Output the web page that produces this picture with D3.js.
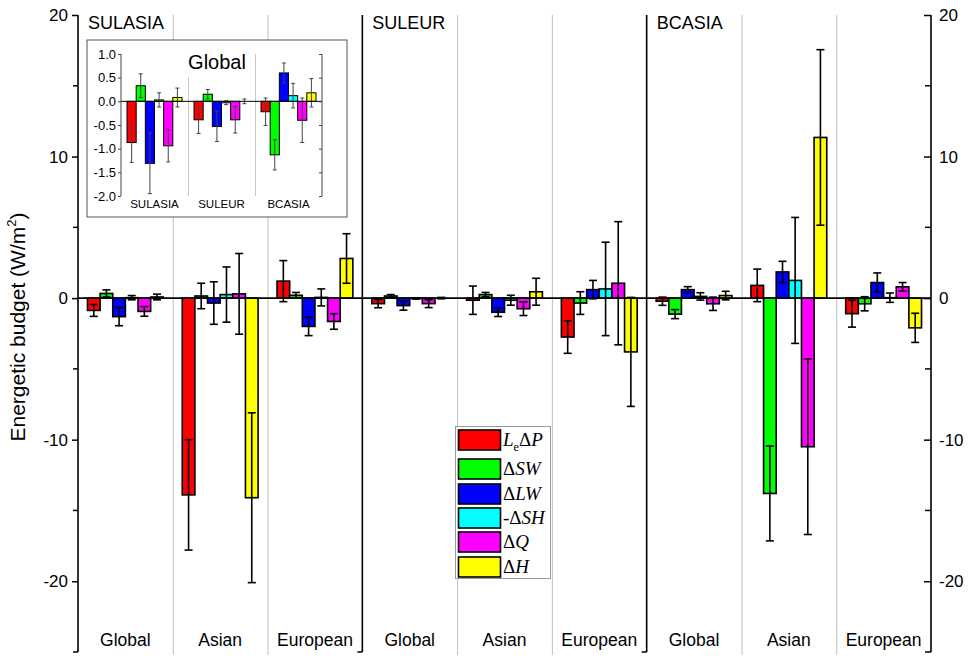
<!DOCTYPE html>
<html><head><meta charset="utf-8">
<script src="https://cdn.jsdelivr.net/npm/d3@7"></script>
<style>
body{margin:0;background:#fff}
svg text{font-family:"Liberation Sans",Arial,sans-serif;fill:#000}
</style>
</head><body>
<svg id="chart" width="972" height="661"></svg>
<script>
// ---------- DATA ----------
const panels = ["SULASIA", "SULEUR", "BCASIA"];
const regions = ["Global", "Asian", "European"];
const seriesNames = ["LeΔP", "ΔSW", "ΔLW", "-ΔSH", "ΔQ", "ΔH"];
const seriesColors = ["#ff0000", "#00ff00", "#0000ff", "#00ffff", "#ff00ff", "#ffff00"];

// rows: Global, Asian, European ; columns follow seriesNames
const sulasiaMean = [
  [-0.87, 0.33, -1.31, 0.03, -0.94, 0.08],
  [-13.9, 0.15, -0.35, 0.25, 0.3, -14.1],
  [1.2, 0.2, -2.0, 0.05, -1.65, 2.8]
];
const sulasiaErr = [
  [0.42, 0.25, 0.64, 0.15, 0.34, 0.2],
  [3.9, 0.9, 1.5, 1.95, 2.85, 6.0],
  [1.45, 0.2, 0.65, 0.6, 0.55, 1.75]
];
const suleurMean = [
  [-0.39, 0.15, -0.53, -0.03, -0.39, 0.0],
  [-0.15, 0.25, -1.0, -0.15, -0.75, 0.45],
  [-2.75, -0.35, 0.6, 0.65, 1.05, -3.8]
];
const suleurErr = [
  [0.29, 0.1, 0.32, 0.04, 0.28, 0.05],
  [1.0, 0.15, 0.3, 0.35, 0.48, 0.95],
  [1.15, 0.8, 0.65, 3.3, 4.35, 3.85]
];
const bcasiaMean = [
  [-0.22, -1.13, 0.6, 0.12, -0.4, 0.18],
  [0.9, -13.8, 1.85, 1.25, -10.5, 11.35],
  [-1.1, -0.4, 1.1, 0.03, 0.8, -2.1]
];
const bcasiaErr = [
  [0.29, 0.32, 0.21, 0.26, 0.47, 0.3],
  [1.15, 3.35, 0.75, 4.45, 6.2, 6.2],
  [0.95, 0.5, 0.68, 0.33, 0.3, 1.03]
];
const mainTicks = [20, 10, 0, -10, -20];
const mainMinorTicks = [15, 5, -5, -15, -25];
const insetTicks = [1.0, 0.5, 0.0, -0.5, -1.0, -1.5, -2.0];
const insetTitle = "Global";
const yTitle = "Energetic budget (W/m";

const means = [sulasiaMean, suleurMean, bcasiaMean];
const errs = [sulasiaErr, suleurErr, bcasiaErr];

// ---------- LAYOUT ----------
const svg = d3.select("#chart");
const X0 = 78, X1 = 931, Y0 = 15, Y1 = 652;
const y = d3.scaleLinear().domain([20, -25]).range([Y0, Y1]);
const groupKeys = [];
panels.forEach(p => regions.forEach(r => groupKeys.push(p + "|" + r)));
const xg = d3.scaleBand().domain(groupKeys).range([X0, X1]).padding(0);
const gw = xg.bandwidth();
const xs = d3.scaleBand().domain(d3.range(seriesNames.length)).range([gw * 0.1, gw * 0.9]).padding(0);

// grey separators between regions
groupKeys.forEach((k, i) => {
  if (i % 3 !== 0) {
    svg.append("line").attr("x1", xg(k) + 0.5).attr("x2", xg(k) + 0.5)
      .attr("y1", Y0).attr("y2", Y1 + 3).attr("stroke", "#c0c0c0").attr("stroke-width", 1);
  }
});

// bars
const bars = [];
panels.forEach((p, pi) => regions.forEach((r, ri) => seriesNames.forEach((s, si) => {
  bars.push({key: p + "|" + r, si, v: means[pi][ri][si], e: errs[pi][ri][si]});
})));
const mg = svg.append("g");
bars.forEach(b => {
  const bx = xg(b.key) + xs(b.si);
  mg.append("rect").attr("x", bx).attr("width", xs.bandwidth())
    .attr("y", Math.min(y(b.v), y(0))).attr("height", Math.abs(y(b.v) - y(0)))
    .attr("fill", seriesColors[b.si]).attr("stroke", "#000").attr("stroke-width", 1.6);
});
bars.forEach(b => {
  const cx = xg(b.key) + xs(b.si) + xs.bandwidth() / 2;
  const lo = y(b.v - b.e), hi = y(b.v + b.e), cw = 4;
  mg.append("line").attr("x1", cx).attr("x2", cx).attr("y1", lo).attr("y2", hi).attr("stroke", "#000").attr("stroke-width", 1.6);
  [lo, hi].forEach(yy => mg.append("line").attr("x1", cx - cw).attr("x2", cx + cw).attr("y1", yy).attr("y2", yy).attr("stroke", "#000").attr("stroke-width", 1.6));
});

// zero line
svg.append("line").attr("x1", X0).attr("x2", X1).attr("y1", y(0)).attr("y2", y(0)).attr("stroke", "#000").attr("stroke-width", 1.8);

const intFmt = d => String(d);

// left axis
const la = svg.append("g").attr("transform", `translate(${X0},0)`)
  .call(d3.axisLeft(y).tickValues(mainTicks).tickSize(6).tickPadding(4).tickFormat(intFmt));
la.selectAll(".tick text").attr("font-size", 17).style("font-family", "Liberation Sans, Arial, sans-serif");
la.append("g").selectAll("line").data(mainMinorTicks).join("line")
  .attr("x1", -5).attr("x2", 0).attr("y1", d => y(d)).attr("y2", d => y(d)).attr("stroke", "#000").attr("stroke-width", 1.5);
la.select(".domain").attr("d", `M0,${Y0}V${Y1}`).attr("stroke-width", 1.6);
la.selectAll(".tick line").attr("stroke-width", 1.5);

// right axis (ticks pointing inward)
const ra = svg.append("g").attr("transform", `translate(${X1},0)`)
  .call(d3.axisRight(y).tickValues(mainTicks).tickSize(-7).tickPadding(8).tickFormat(intFmt));
ra.selectAll(".tick text").attr("font-size", 17).style("font-family", "Liberation Sans, Arial, sans-serif");
ra.append("g").selectAll("line").data(mainMinorTicks).join("line")
  .attr("x1", -6).attr("x2", 0).attr("y1", d => y(d)).attr("y2", d => y(d)).attr("stroke", "#000").attr("stroke-width", 1.5);
ra.select(".domain").attr("d", `M0,${Y0}V${Y1}`).attr("stroke-width", 1.6);
ra.selectAll(".tick line").attr("stroke-width", 1.5);

// panel separators
[1, 2].forEach(pi => {
  const xx = xg(panels[pi] + "|" + regions[0]);
  svg.append("line").attr("x1", xx).attr("x2", xx).attr("y1", Y0).attr("y2", Y1).attr("stroke", "#000").attr("stroke-width", 1.6);
  svg.append("line").attr("x1", xx - 5).attr("x2", xx).attr("y1", Y1).attr("y2", Y1).attr("stroke", "#000").attr("stroke-width", 1.5);
});

// panel titles
panels.forEach((p, pi) => {
  svg.append("text").attr("x", xg(p + "|" + regions[0]) + 10).attr("y", 29)
    .attr("font-size", 18).text(p);
});

// region labels
groupKeys.forEach(k => {
  svg.append("text").attr("x", xg(k) + gw / 2).attr("y", 646).attr("text-anchor", "middle")
    .attr("font-size", 17.5).text(k.split("|")[1]);
});

// y title
const yt = svg.append("text").attr("transform", `translate(25,${327}) rotate(-90)`)
  .attr("text-anchor", "middle").attr("font-size", 21);
yt.append("tspan").text(yTitle);
yt.append("tspan").attr("font-size", 13).attr("dy", -9).text("2");
yt.append("tspan").attr("dy", 9).text(")");

// ---------- INSET ----------
const IX0 = 121, IX1 = 322, IY0 = 54, IY1 = 196;
svg.append("rect").attr("x", 87).attr("y", 40).attr("width", 260).attr("height", 177)
  .attr("fill", "#fff").attr("stroke", "#555").attr("stroke-width", 1);
const iy = d3.scaleLinear().domain([1, -2]).range([IY0, IY1]);
const ixg = d3.scaleBand().domain(panels).range([IX0, IX1]).padding(0);
const igw = ixg.bandwidth();
const ixs = d3.scaleBand().domain(d3.range(seriesNames.length)).range([igw * 0.09, igw * 0.91]).padding(0);
// separators
panels.forEach((p, pi) => {
  if (pi > 0) svg.append("line").attr("x1", ixg(p) + 0.5).attr("x2", ixg(p) + 0.5)
    .attr("y1", pi === 1 ? 77 : IY0).attr("y2", IY1).attr("stroke", "#c8c8c8").attr("stroke-width", 1);
});
const ig = svg.append("g");
panels.forEach((p, pi) => seriesNames.forEach((s, si) => {
  const v = means[pi][0][si];
  ig.append("rect").attr("x", ixg(p) + ixs(si)).attr("width", ixs.bandwidth())
    .attr("y", Math.min(iy(v), iy(0))).attr("height", Math.abs(iy(v) - iy(0)))
    .attr("fill", seriesColors[si]).attr("stroke", "#000").attr("stroke-width", 1);
}));
panels.forEach((p, pi) => seriesNames.forEach((s, si) => {
  const v = means[pi][0][si], e = errs[pi][0][si];
  const cx = ixg(p) + ixs(si) + ixs.bandwidth() / 2;
  const lo = iy(v - e), hi = iy(v + e);
  ig.append("line").attr("x1", cx).attr("x2", cx).attr("y1", lo).attr("y2", hi).attr("stroke", "#444").attr("stroke-width", 1);
  [lo, hi].forEach(yy => ig.append("line").attr("x1", cx - 2).attr("x2", cx + 2).attr("y1", yy).attr("y2", yy).attr("stroke", "#444").attr("stroke-width", 1));
}));
svg.append("line").attr("x1", IX0).attr("x2", IX1).attr("y1", iy(0)).attr("y2", iy(0)).attr("stroke", "#000").attr("stroke-width", 1);
const ila = svg.append("g").attr("transform", `translate(${IX0},0)`)
  .call(d3.axisLeft(iy).tickValues(insetTicks).tickSize(3).tickPadding(2).tickFormat(d => d.toFixed(1)));
ila.selectAll(".tick text").attr("font-size", 13).style("font-family", "Liberation Sans, Arial, sans-serif");
ila.select(".domain").attr("d", `M0,${IY0}V${IY1}`).attr("stroke", "#444");
ila.selectAll(".tick line").attr("stroke", "#444");
const ira = svg.append("g").attr("transform", `translate(${IX1},0)`)
  .call(d3.axisRight(iy).tickValues(insetTicks).tickSize(-3).tickFormat(""));
ira.select(".domain").attr("d", `M0,${IY0}V${IY1}`).attr("stroke", "#444");
ira.selectAll(".tick line").attr("stroke", "#444");
svg.append("text").attr("x", 217).attr("y", 69).attr("text-anchor", "middle").attr("font-size", 20).text(insetTitle);
panels.forEach(p => {
  svg.append("text").attr("x", ixg(p) + igw / 2).attr("y", 208).attr("text-anchor", "middle")
    .attr("font-size", 11.5).text(p);
});

// ---------- LEGEND ----------
const lg = svg.append("g");
lg.append("rect").attr("x", 455.5).attr("y", 426.5).attr("width", 95).attr("height", 152)
  .attr("fill", "#fff").attr("stroke", "#999").attr("stroke-width", 1);
const legendY = [430, 459, 484, 508, 532, 557];
const legendParts = [
  [["L", "i"], ["e", "sub"], ["Δ", "r"], ["P", "i"]],
  [["Δ", "r"], ["SW", "i"]],
  [["Δ", "r"], ["LW", "i"]],
  [["-Δ", "r"], ["SH", "i"]],
  [["Δ", "r"], ["Q", "i"]],
  [["Δ", "r"], ["H", "i"]]
];
seriesNames.forEach((s, si) => {
  lg.append("rect").attr("x", 458.5).attr("y", legendY[si]).attr("width", 42).attr("height", 20)
    .attr("fill", seriesColors[si]).attr("stroke", "#000").attr("stroke-width", 1.6);
  const t = lg.append("text").attr("x", 503).attr("y", legendY[si] + 16)
    .style("font-family", "Liberation Serif, Times New Roman, serif").attr("font-size", 19);
  let sub = false;
  legendParts[si].forEach(([txt, st]) => {
    const ts = t.append("tspan").text(txt);
    if (st === "i") ts.attr("font-style", "italic");
    if (st === "sub") { ts.attr("font-size", 12).attr("dy", 5); sub = true; }
    else if (sub) { ts.attr("dy", -5); sub = false; }
  });
});
</script>
</body></html>
